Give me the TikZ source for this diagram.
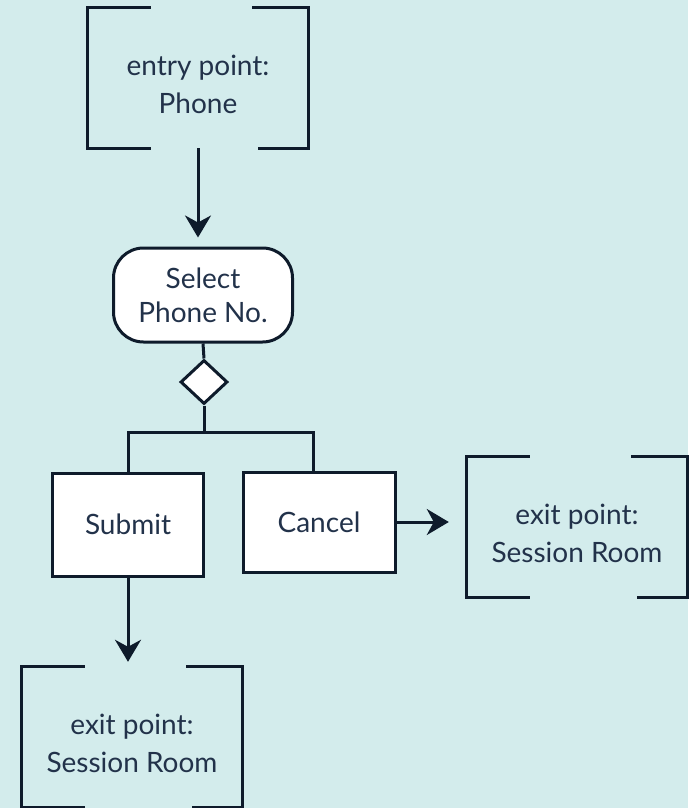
\documentclass[tikz,border=0pt]{standalone}
\usepackage{fontspec}
\setmainfont{Lato}
\usetikzlibrary{shapes.geometric,arrows.meta}
\definecolor{bg}{HTML}{D3ECEC}
\definecolor{ink}{HTML}{0E1B2B}
\definecolor{txt}{HTML}{22324A}
\tikzset{
  label text/.style={text=txt, align=center, font=\fontsize{28}{38}\selectfont},
  point/.style={label text, minimum width=220pt, minimum height=140pt, inner sep=0pt},
  bracket/.style={draw=ink, line width=3pt},
  action/.style={label text, font=\fontsize{28}{34}\selectfont, draw=ink, fill=white,
    line width=3pt, rounded corners=30pt, minimum width=179pt, minimum height=94pt, inner sep=0pt},
  stepbox/.style={label text, draw=ink, fill=white, line width=3pt, inner sep=0pt},
  choice/.style={diamond, draw=ink, fill=white, line width=3pt, inner sep=0pt,
    minimum width=47pt, minimum height=44pt},
  link/.style={draw=ink, line width=3pt},
  flow/.style={link, -{Stealth[length=22pt,width=26pt,inset=7pt]}}
}
\begin{document}
\begin{tikzpicture}[x=1pt,y=-1pt]
  \fill[bg] (0,0) rectangle (688,808);
  \useasboundingbox (0,0) rectangle (688,808);

  % entry and exit points: the text sits a little below the middle of its bracket
  \node[point] (entry) at (198,84) {entry point:\\Phone};
  \node[point] (exitR) at (577,533) {exit point:\\Session Room};
  \node[point] (exitB) at (132,743) {exit point:\\Session Room};
  \foreach \p in {entry, exitR, exitB} {
    \draw[bracket] ([xshift=63pt,yshift=6pt]\p.north west) -- ([yshift=6pt]\p.north west)
      -- ([yshift=6pt]\p.south west) -- ([xshift=63pt,yshift=6pt]\p.south west);
    \draw[bracket] ([xshift=-56pt,yshift=6pt]\p.north east) -- ([yshift=6pt]\p.north east)
      -- ([yshift=6pt]\p.south east) -- ([xshift=-50pt,yshift=6pt]\p.south east);
  }

  % action, decision and the two buttons
  \node[action] (select) at (203,295) {Select\\Phone No.};
  \node[choice] (choice) at (204,382) {};
  \node[stepbox, minimum width=151pt, minimum height=103pt] (submit) at (128,524.5) {Submit};
  \node[stepbox, minimum width=152pt, minimum height=100pt] (cancel) at (319,522) {Cancel};
  \coordinate (fork) at (204,432);

  % connectors
  \draw[flow, shorten >=9pt] ([yshift=6pt]entry.south) -- (entry.south |- select.north);
  \draw[link] (select.south) -- (choice.north);
  \draw[link] (choice.south) -- (fork);
  \draw[link] (submit.north) |- (fork) -| ([xshift=-6pt]cancel.north);
  \draw[flow, shorten >=18pt] (cancel.east) -- (cancel.east -| exitR.west);
  \draw[flow, shorten >=5pt] (submit.south) -- ([yshift=6pt]submit.south |- exitB.north);
\end{tikzpicture}
\end{document}
